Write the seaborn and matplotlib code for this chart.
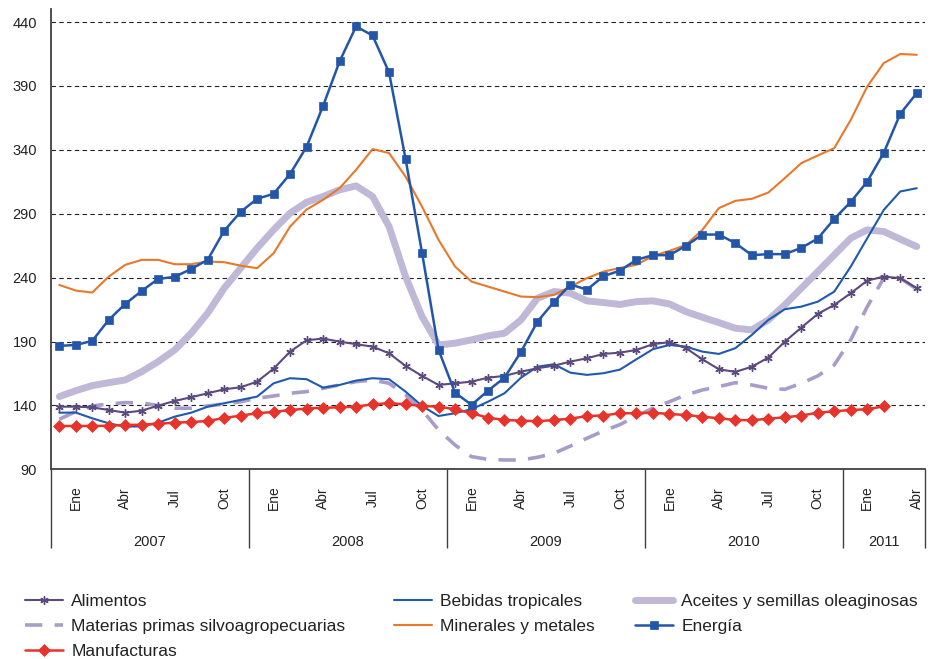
import matplotlib
matplotlib.use('Agg')
import matplotlib.pyplot as plt
import seaborn as sns
import numpy as np

sns.set_style('white')
plt.rcParams['font.family'] = ['Liberation Sans', 'DejaVu Sans']

# Datos mensuales, enero 2007 - mayo 2011 (indices)
meses = ['Ene', 'Abr', 'Jul', 'Oct']
anios = ['2007', '2008', '2009', '2010', '2011']

alimentos = [139.0, 139.0, 138.5, 136.4, 134.3, 135.9, 139.8, 143.5, 146.4, 149.5, 152.6, 154.2,
             158.6, 168.8, 182.1, 191.0, 192.3, 189.9, 187.9, 186.0, 180.8, 170.9, 163.1, 156.0,
             157.3, 158.6, 161.7, 163.1, 166.4, 169.1, 171.1, 174.3, 176.9, 180.3, 181.3, 183.4,
             187.9, 189.5, 184.8, 176.1, 168.3, 166.2, 170.3, 177.4, 189.9, 200.9, 211.6, 218.7,
             227.8, 237.7, 240.8, 239.6, 231.7]
bebidas = [134.3, 134.4, 129.9, 126.0, 123.4, 123.6, 126.5, 131.2, 134.3, 139.0, 141.7, 144.3,
           146.9, 157.3, 161.3, 160.5, 153.9, 156.0, 159.4, 161.3, 160.5, 150.8, 139.6, 131.7,
           133.9, 137.0, 142.9, 149.5, 161.7, 170.3, 172.2, 165.6, 163.9, 165.2, 168.0, 176.1,
           184.0, 187.3, 186.0, 182.1, 180.3, 184.8, 195.2, 206.9, 215.3, 217.3, 221.2, 229.1,
           248.7, 270.9, 293.0, 307.4, 310.0]
aceites = [146.9, 151.5, 155.5, 157.8, 159.9, 166.4, 174.3, 183.4, 196.5, 212.2, 231.7, 247.4,
           263.1, 277.4, 290.5, 299.0, 303.5, 308.7, 311.8, 303.5, 280.0, 240.8, 209.5, 187.3,
           188.7, 191.3, 194.4, 196.5, 206.9, 223.9, 229.1, 227.8, 221.8, 220.5, 219.0, 221.2,
           221.8, 219.4, 213.4, 209.0, 204.8, 200.4, 199.1, 206.9, 218.7, 231.7, 244.7, 257.8,
           270.9, 277.4, 276.1, 270.1, 264.3]
materias = [129.2, 135.1, 139.6, 141.1, 142.2, 142.0, 139.8, 137.8, 137.8, 139.6, 141.1, 142.9,
            145.6, 147.4, 149.5, 150.8, 153.4, 156.0, 158.6, 159.9, 157.3, 148.2, 136.4, 120.8,
            109.0, 99.9, 97.8, 97.3, 97.3, 99.4, 102.5, 108.2, 114.3, 120.0, 125.0, 131.7,
            137.8, 142.9, 148.2, 152.1, 154.7, 157.8, 156.0, 153.4, 152.6, 157.3, 163.1, 171.7,
            191.5, 217.3, 239.6, 239.6, 231.0]
minerales = [234.3, 229.9, 228.3, 240.8, 250.0, 253.9, 253.9, 250.5, 250.5, 252.6, 252.1, 249.4,
             247.4, 259.1, 280.0, 293.3, 300.9, 310.0, 324.4, 340.6, 337.5, 319.1, 295.6, 269.6,
             248.7, 236.9, 233.0, 229.1, 225.2, 224.7, 226.5, 233.0, 239.6, 244.7, 247.6, 250.0,
             257.0, 260.9, 265.6, 277.4, 294.4, 300.1, 301.7, 306.6, 317.9, 329.6, 335.6, 341.4,
             363.5, 389.6, 407.9, 415.0, 414.4]
energia = [186.6, 187.3, 190.5, 206.9, 219.4, 229.6, 239.0, 240.6, 246.8, 253.9, 276.6, 291.5,
           301.7, 305.6, 321.2, 342.4, 374.4, 409.2, 436.6, 429.5, 400.6, 333.0, 259.4, 183.5,
           150.0, 140.4, 151.5, 161.7, 181.9, 205.6, 221.0, 234.6, 230.6, 241.1, 245.5, 253.9,
           257.6, 257.6, 264.9, 273.7, 273.7, 267.0, 257.6, 258.4, 258.4, 263.3, 270.6, 286.0,
           299.3, 315.2, 337.7, 368.2, 384.4]
manufacturas = [123.9, 123.9, 123.9, 124.1, 124.7, 124.9, 125.7, 126.5, 127.0, 127.8, 130.2, 132.0,
                133.9, 134.9, 136.4, 137.5, 138.2, 138.5, 139.0, 140.9, 141.7, 140.9, 139.6, 139.0,
                137.0, 133.9, 130.4, 128.6, 128.1, 127.6, 128.6, 129.6, 131.7, 132.1, 133.9, 133.9,
                134.3, 133.3, 132.5, 131.2, 129.9, 128.6, 128.4, 129.6, 130.7, 132.1, 134.3, 135.4,
                136.4, 137.0, 139.3]

n_meses = len(energia)

fig = plt.figure(figsize=(9.3, 6.59), dpi=100)
ax = fig.add_axes([51 / 930, 1 - 469.3 / 659, 874 / 930, 460 / 659])

# orden de dibujo (el gris grueso abajo)
series = [
    ('Aceites y semillas oleaginosas', aceites,
     dict(color='#bfb8d6', lw=5, solid_capstyle='round')),
    ('Materias primas silvoagropecuarias', materias,
     dict(color='#a99cc9', lw=2.6, linestyle=(0, (4.8, 3.4)), dash_capstyle='butt')),
    ('Bebidas tropicales', bebidas, dict(color='#1f5aae', lw=1.5)),
    ('Minerales y metales', minerales, dict(color='#e8782a', lw=1.5)),
    ('Alimentos', alimentos,
     dict(color='#5c4a7f', lw=1.5, marker=(6, 2, 0), markersize=6,
          markeredgecolor='#5c4a7f', markeredgewidth=1)),
    ('Manufacturas', manufacturas,
     dict(color='#e8332b', lw=1.8, marker='D', markersize=5.8,
          markeredgecolor='#e8332b', markeredgewidth=0.5)),
    ('Energía', energia,
     dict(color='#2356a8', lw=1.8, marker='s', markersize=6.2,
          markeredgecolor='#2356a8', markeredgewidth=0.5)),
]

handles = {}
for nombre, valores, estilo in series:
    sns.lineplot(x=np.arange(len(valores)), y=valores, ax=ax, legend=False, **estilo)
    handles[nombre] = ax.lines[-1]

ax.set_xlim(-0.5, n_meses - 0.5)
ax.set_ylim(90, 450)

# eje y
ax.set_yticks(np.arange(90, 441, 50))
ax.tick_params(axis='y', length=6, width=1, color='#404040', labelsize=10.5, pad=4,
               labelcolor='#222222')
ax.yaxis.grid(True, linestyle=(0, (4, 3)), color='#222222', lw=0.8)

# eje x: marcas trimestrales
ax.set_xticks(np.arange(-0.5, n_meses - 1, 3))
ax.set_xticklabels([])
ax.tick_params(axis='x', length=4, width=1, color='#404040', direction='out')

trans = ax.get_xaxis_transform()
for k, pos in enumerate(np.arange(1, n_meses, 3)):
    ax.text(pos, -0.062, meses[k % 4], rotation=90, ha='center', va='center',
            fontsize=10, color='#222222', transform=trans)

limites = [-0.5, 11.5, 23.5, 35.5, 47.5, n_meses - 0.5]
ax.vlines(limites, -0.171, 0, transform=trans, clip_on=False, color='#404040', lw=1)
for i, anio in enumerate(anios):
    centro = (limites[i] + limites[i + 1]) / 2
    ax.text(centro, -0.157, anio, ha='center', va='center', fontsize=10.5,
            color='#222222', transform=trans)

sns.despine(ax=ax)
for s in ['left', 'bottom']:
    ax.spines[s].set_color('#404040')
    ax.spines[s].set_linewidth(1.3)

# leyenda en tres columnas
columnas = [
    (25, ['Alimentos', 'Materias primas silvoagropecuarias', 'Manufacturas']),
    (394, ['Bebidas tropicales', 'Minerales y metales']),
    (635, ['Aceites y semillas oleaginosas', 'Energía']),
]
for x0, nombres in columnas:
    leg = fig.legend([handles[o] for o in nombres], nombres, loc='upper left',
                     bbox_to_anchor=(x0 / 930, (659 - 594) / 659), frameon=False,
                     fontsize=12.5, handlelength=2.2, handletextpad=0.46,
                     labelspacing=0.56, borderpad=0, borderaxespad=0, numpoints=1,
                     labelcolor='#222222')

fig.savefig('out.png', dpi=100)
